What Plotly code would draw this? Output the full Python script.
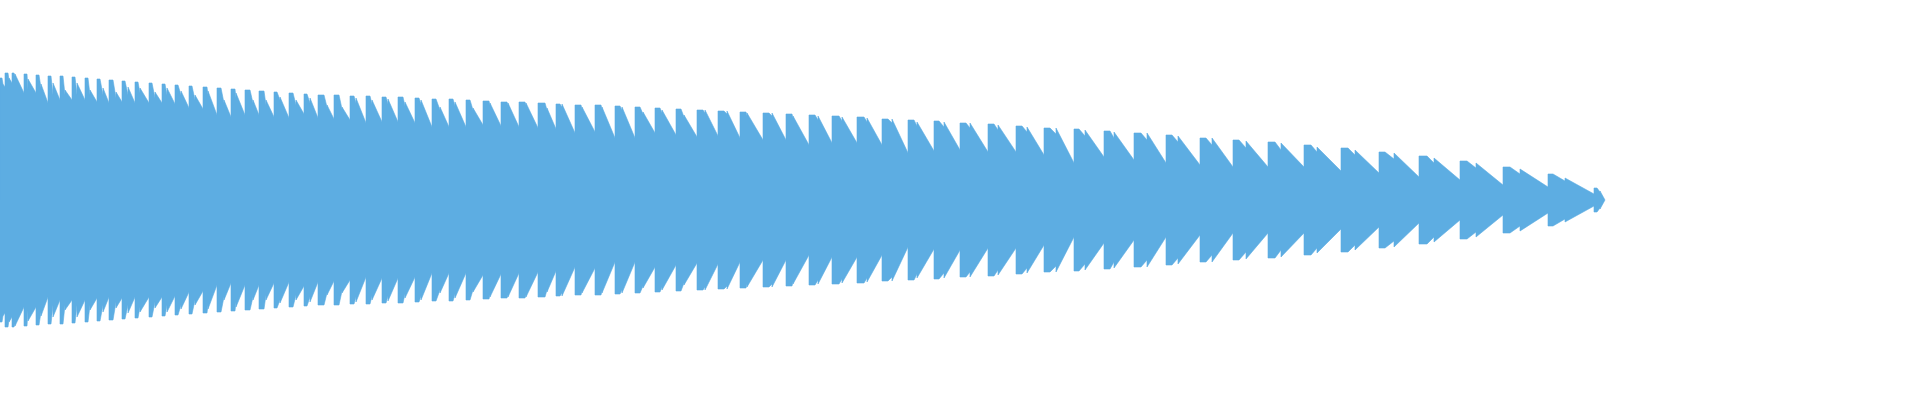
import plotly.graph_objects as go

# Waveform envelope, per beat (x in pixel columns,
# amplitudes in units where full scale = 200).
onset_x = [0, 5, 12, 24, 36, 48, 60, 72, 85, 97,
           109, 122, 135, 149, 162, 175, 189, 203, 217, 231,
           245, 259, 274, 289, 304, 318, 334, 350, 366, 382,
           398, 415, 432, 449, 466, 483, 501, 519, 538, 556,
           575, 595, 615, 635, 655, 676, 697, 718, 740, 763,
           786, 809, 832, 857, 882, 908, 934, 960, 988, 1016,
           1044, 1074, 1104, 1134, 1166, 1200, 1233, 1268, 1304, 1341,
           1379, 1419, 1460, 1503, 1548, 1594]
hold_x = [2, 8, 14, 27, 39, 51, 63, 75, 88, 100,
          113, 125, 138, 152, 165, 178, 192, 207, 221, 235,
          250, 264, 277, 293, 307, 324, 339, 354, 370, 386,
          403, 419, 436, 453, 470, 489, 507, 525, 545, 560,
          581, 601, 620, 640, 660, 681, 703, 724, 746, 769,
          792, 815, 839, 864, 888, 914, 939, 966, 994, 1022,
          1050, 1079, 1110, 1141, 1172, 1206, 1239, 1275, 1311, 1348,
          1385, 1427, 1467, 1510, 1553, 1597]
sec_x = [3, 9, 15, 28, 41, 53, 65, 77, 90, 103,
         116, 128, 140, 155, 167, 181, 195, 208, 224, 236,
         253, 266, 280, 296, 310, 327, 342, 356, 372, 388,
         405, 421, 440, 455, 473, 490, 508, 526, 547, 562,
         582, 602, 622, 643, 662, 684, 705, 727, 747, 772,
         793, 818, 842, 867, 892, 917, 944, 970, 998, 1027,
         1056, 1085, 1114, 1147, 1178, 1212, 1246, 1281, 1317, 1355,
         1394, 1434, 1476, 1520, 1565, 1600]
end_x = 1605

peak_amp = [122, 127, 127, 126, 125, 124, 124, 123, 122, 121,
            120, 119, 118, 117, 116, 115, 114, 113, 112, 111,
            110, 109, 108, 107, 106, 105, 105, 104, 104, 103,
            103, 102, 101, 101, 100, 99, 98, 98, 97, 96,
            95, 95, 94, 93, 92, 91, 90, 89, 88, 87,
            86, 85, 84, 83, 81, 80, 79, 77, 76, 74,
            72, 71, 69, 67, 65, 62, 60, 58, 55, 52,
            48, 44, 39, 33, 26, 12]
dip_amp = [116, 120, 124, 110, 112, 105, 105, 105, 105, 105,
           102, 105, 107, 102, 105, 105, 100, 105, 97, 102,
           97, 95, 100, 95, 97, 93, 91, 97, 96, 96,
           94, 96, 90, 94, 90, 95, 95, 95, 90, 93,
           91, 91, 90, 86, 87, 83, 87, 86, 84, 84,
           82, 80, 79, 78, 77, 74, 73, 72, 70, 68,
           66, 64, 62, 60, 58, 55, 52, 50, 48, 45,
           41, 37, 32, 26, 19, 8]
sec_amp = [116, 122, 126, 121, 116, 117, 110, 117, 110, 112,
           108, 113, 112, 108, 112, 109, 105, 109, 100, 107,
           100, 100, 103, 100, 102, 95, 93, 102, 100, 101,
           98, 100, 93, 98, 92, 97, 97, 97, 92, 96,
           93, 93, 93, 88, 90, 85, 90, 89, 87, 87,
           84, 84, 83, 82, 81, 78, 78, 77, 75, 73,
           72, 70, 68, 67, 64, 62, 59, 57, 53, 50,
           47, 42, 37, 31, 22, 9]
valley_amp = [113, 117, 107, 107, 97, 100, 100, 100, 98, 97,
              98, 97, 97, 97, 96, 92, 91, 85, 83, 85,
              85, 83, 82, 86, 82, 81, 80, 77, 78, 78,
              77, 73, 73, 73, 75, 74, 73, 72, 71, 67,
              68, 62, 62, 67, 65, 63, 64, 62, 60, 60,
              55, 57, 57, 55, 47, 49, 50, 48, 48, 45,
              37, 43, 40, 37, 35, 33, 33, 33, 29, 27,
              23, 20, 15, 13, 6, 0]

# Build the upper envelope path from the beat table
xs, ys = [], []
n = len(onset_x)
for i in range(n):
    nxt = onset_x[i + 1] if i + 1 < n else end_x
    xs += [onset_x[i], hold_x[i], sec_x[i], sec_x[i], nxt]
    ys += [peak_amp[i], peak_amp[i], dip_amp[i], sec_amp[i], valley_amp[i]]

poly_x = [xs[0]] + xs + xs[::-1]
poly_y = [0] + ys + [-v for v in ys[::-1]]

fig = go.Figure()
fig.add_trace(go.Scatter(
    x=poly_x, y=poly_y, mode="lines", fill="toself",
    fillcolor="#5DADE2", line=dict(color="#5DADE2", width=0.6),
    hoverinfo="skip", showlegend=False,
))
fig.update_layout(
    width=1920, height=400,
    margin=dict(l=0, r=0, t=0, b=0),
    paper_bgcolor="white", plot_bgcolor="white",
    xaxis=dict(range=[0, 1920], visible=False, fixedrange=True),
    yaxis=dict(range=[-200, 200], visible=False, fixedrange=True),
    showlegend=False,
)
fig.write_html("out.html", config={"displayModeBar": False},
               post_script="document.body.style.margin='0';")
